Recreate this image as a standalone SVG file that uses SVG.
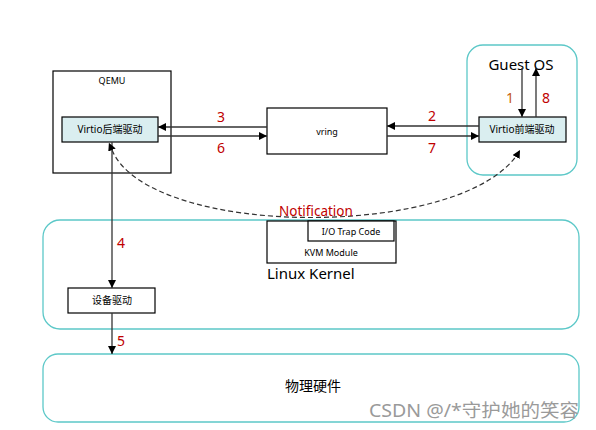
<svg xmlns="http://www.w3.org/2000/svg" width="596" height="430" viewBox="0 0 596 430">
<defs>
<marker id="ah" viewBox="0 0 10 10" refX="10" refY="5" markerWidth="8" markerHeight="8" orient="auto" markerUnits="userSpaceOnUse">
<path d="M0,0 L10,5 L0,10 z" fill="#000"/>
</marker>
<marker id="ahs" viewBox="0 0 10 10" refX="0" refY="5" markerWidth="8" markerHeight="8" orient="auto-start-reverse" markerUnits="userSpaceOnUse">
<path d="M0,0 L10,5 L0,10 z" fill="#000"/>
</marker>
</defs>
<style>
text{font-family:"Noto Sans","Noto Sans CJK SC",sans-serif;}
.box{fill:#fff;stroke:#000;stroke-width:1.2;}
.drv{fill:#daeef0;stroke:#000;stroke-width:1.2;}
.grp{fill:none;stroke:#5cc8c8;stroke-width:1.3;}
.sm{font-size:9px;fill:#000;}
.md{font-size:10px;fill:#000;}
.lg{font-size:14px;fill:#000;}
.num{font-size:14px;fill:#c00000;}
.ln{stroke:#333;stroke-width:1.3;fill:none;}
</style>
<rect width="596" height="430" fill="#fff"/>
<g id="guest-os">
<rect class="grp" x="467" y="45" width="110" height="130" rx="16"/>
<text class="lg" x="521" y="70" text-anchor="middle" font-size="15" style="font-size:15px">Guest OS</text>
</g>
<g id="linux-kernel">
<rect class="grp" x="43" y="220" width="536" height="109" rx="17"/>
<text class="lg" x="267" y="279" style="font-size:15px">Linux Kernel</text>
</g>
<g id="hardware">
<rect class="grp" x="43" y="354" width="536" height="68" rx="15"/>
<text class="lg" x="313" y="391" text-anchor="middle">物理硬件</text>
</g>
<g id="qemu">
<rect class="box" x="53" y="71" width="118" height="102"/>
<text class="sm" x="112" y="84" text-anchor="middle">QEMU</text>
</g>
<g id="virtio-backend">
<rect class="drv" x="62" y="117" width="96" height="25"/>
<text class="md" x="110" y="133" text-anchor="middle">Virtio后端驱动</text>
</g>
<g id="vring">
<rect class="box" x="267" y="108" width="120" height="46"/>
<text class="sm" x="327" y="135" text-anchor="middle">vring</text>
</g>
<g id="virtio-frontend">
<rect class="drv" x="479" y="117" width="87" height="25"/>
<text class="md" x="522" y="133" text-anchor="middle">Virtio前端驱动</text>
</g>
<g id="kvm-module">
<rect class="box" x="267" y="221" width="129" height="42"/>
<text class="sm" x="331" y="256" text-anchor="middle">KVM Module</text>
</g>
<g id="io-trap">
<rect class="box" x="308" y="221" width="86" height="20"/>
<text class="sm" x="351" y="235" text-anchor="middle">I/O Trap Code</text>
</g>
<g id="device-driver">
<rect class="box" x="68" y="288" width="87" height="25"/>
<text class="md" x="112" y="304" text-anchor="middle">设备驱动</text>
</g>
<g id="connectors">
<line class="ln" x1="267" y1="127" x2="158" y2="127" marker-end="url(#ah)"/>
<line class="ln" x1="158" y1="136" x2="267" y2="136" marker-end="url(#ah)"/>
<line class="ln" x1="479" y1="126" x2="387" y2="126" marker-end="url(#ah)"/>
<line class="ln" x1="387" y1="136" x2="479" y2="136" marker-end="url(#ah)"/>
<line class="ln" x1="522" y1="68" x2="522" y2="117" marker-end="url(#ah)"/>
<line class="ln" x1="536" y1="117" x2="536" y2="68" marker-end="url(#ah)"/>
<line class="ln" x1="112" y1="142" x2="112" y2="288" marker-end="url(#ah)"/>
<line class="ln" x1="112" y1="313" x2="112" y2="354" marker-end="url(#ah)"/>
<path d="M112,150 C150,240 470,240 520,150" fill="none" stroke="#333" stroke-width="1.2" stroke-dasharray="5,3" marker-start="url(#ahs)" marker-end="url(#ah)"/>
<text class="num" x="221" y="122" text-anchor="middle">3</text>
<text class="num" x="221" y="153" text-anchor="middle">6</text>
<text class="num" x="432" y="121" text-anchor="middle">2</text>
<text class="num" x="432" y="153" text-anchor="middle">7</text>
<text class="num" x="510" y="103" text-anchor="middle" style="fill:#c55a11">1</text>
<text class="num" x="546" y="103" text-anchor="middle">8</text>
<text class="num" x="121" y="248" text-anchor="middle">4</text>
<text class="num" x="121" y="346" text-anchor="middle">5</text>
<text x="279" y="216" font-size="13.5" fill="#c00000">Notification</text>
</g>
<text x="369" y="417" font-size="18" fill="#9a9a9a" textLength="210" lengthAdjust="spacingAndGlyphs">CSDN @/*守护她的笑容</text>
</svg>
